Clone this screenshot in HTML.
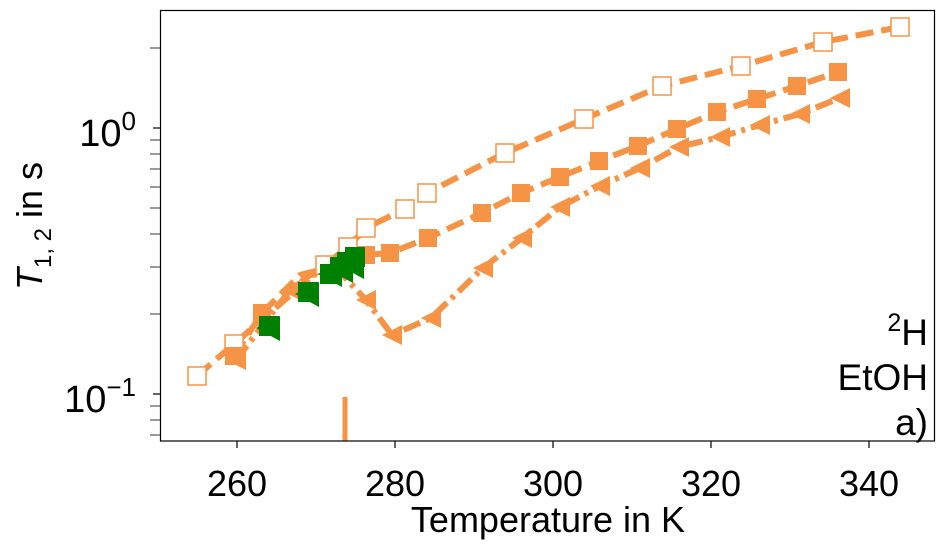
<!DOCTYPE html>
<html><head><meta charset="utf-8"><style>body{margin:0;background:#fff}svg{display:block;font-family:"Liberation Sans","DejaVu Sans",sans-serif}</style></head><body>
<svg width="945" height="549" viewBox="0 0 945 549" xmlns="http://www.w3.org/2000/svg">
<line x1="345" y1="397" x2="345" y2="441" stroke="#f79345" stroke-width="5"/>
<g fill="none" stroke="#f79345" stroke-width="6">
<polyline stroke-dasharray="18,8" points="197,376 234,344 325,265 348,247 366,228 405,209 427,193 505,153 584,119 662,86 741,66 823,42 900,27"/>
<polyline stroke-dasharray="18,8" points="234,356 262,313 300,275 340,265 366,255 390,253 428,238 482,213 521,193 560,177 599,161 638,146 677,129 717,112 757,99 797,86 838,72"/>
<polyline stroke-dasharray="18,6,4,6" points="236,360 290,290 310,275 340,272 366,300 392,335 431,318 483,268 522,238 560,207 600,186 640,168 679,147 720,137 760,125 800,114 840,98"/>
</g>
<g fill="#fff" stroke="#f79345" stroke-width="1.5">
<rect x="188" y="367" width="18" height="18"/><rect x="225" y="335" width="18" height="18"/><rect x="316" y="256" width="18" height="18"/><rect x="339" y="238" width="18" height="18"/><rect x="357" y="219" width="18" height="18"/><rect x="396" y="200" width="18" height="18"/><rect x="418" y="184" width="18" height="18"/><rect x="496" y="144" width="18" height="18"/><rect x="575" y="110" width="18" height="18"/><rect x="653" y="77" width="18" height="18"/><rect x="732" y="57" width="18" height="18"/><rect x="814" y="33" width="18" height="18"/><rect x="891" y="18" width="18" height="18"/>
</g>
<g fill="#f79345">
<rect x="225" y="347" width="18" height="18"/><rect x="253" y="304" width="18" height="18"/><rect x="357" y="246" width="18" height="18"/><rect x="381" y="244" width="18" height="18"/><rect x="419" y="229" width="18" height="18"/><rect x="473" y="204" width="18" height="18"/><rect x="512" y="184" width="18" height="18"/><rect x="551" y="168" width="18" height="18"/><rect x="590" y="152" width="18" height="18"/><rect x="629" y="137" width="18" height="18"/><rect x="668" y="120" width="18" height="18"/><rect x="708" y="103" width="18" height="18"/><rect x="748" y="90" width="18" height="18"/><rect x="788" y="77" width="18" height="18"/><rect x="829" y="63" width="18" height="18"/>
</g>
<g fill="#f79345">
<polygon points="226,360 246,350 246,370"/><polygon points="280,290 300,280 300,300"/><polygon points="356,300 376,290 376,310"/><polygon points="382,335 402,325 402,345"/><polygon points="421,318 441,308 441,328"/><polygon points="473,268 493,258 493,278"/><polygon points="512,238 532,228 532,248"/><polygon points="550,207 570,197 570,217"/><polygon points="590,186 610,176 610,196"/><polygon points="630,168 650,158 650,178"/><polygon points="669,147 689,137 689,157"/><polygon points="710,137 730,127 730,147"/><polygon points="750,125 770,115 770,135"/><polygon points="790,114 810,104 810,124"/><polygon points="830,98 850,88 850,108"/>
</g>
<g fill="#008000">
<rect x="259" y="316" width="20" height="20"/><rect x="298" y="282" width="20" height="20"/><rect x="320" y="264" width="20" height="20"/><rect x="330" y="257" width="20" height="20"/><rect x="337" y="252" width="20" height="20"/><rect x="345" y="247" width="20" height="20"/>
<polygon points="256,328 280,316 280,341"/><polygon points="295,294 319,282 319,307"/><polygon points="318,274 342,262 342,287"/><polygon points="329,270 353,258 353,283"/><polygon points="340,266 364,254 364,279"/>
</g>
<rect x="160.5" y="10.5" width="774" height="430.5" fill="none" stroke="#000" stroke-width="1.2"/>
<g stroke="#000" stroke-width="1.2">
<line x1="237" y1="441" x2="237" y2="448"/><line x1="395" y1="441" x2="395" y2="448"/><line x1="553" y1="441" x2="553" y2="448"/><line x1="711" y1="441" x2="711" y2="448"/><line x1="869" y1="441" x2="869" y2="448"/>
<line x1="153" y1="128" x2="160" y2="128"/><line x1="153" y1="394" x2="160" y2="394"/>
<g stroke-width="0.8"><line x1="150" y1="48" x2="160" y2="48"/><line x1="150" y1="140" x2="160" y2="140"/><line x1="150" y1="154" x2="160" y2="154"/><line x1="150" y1="169" x2="160" y2="169"/><line x1="150" y1="187" x2="160" y2="187"/><line x1="150" y1="208" x2="160" y2="208"/><line x1="150" y1="234" x2="160" y2="234"/><line x1="150" y1="267" x2="160" y2="267"/><line x1="150" y1="314" x2="160" y2="314"/><line x1="150" y1="406" x2="160" y2="406"/><line x1="150" y1="420" x2="160" y2="420"/><line x1="150" y1="435" x2="160" y2="435"/></g>
</g>
<g font-size="36" fill="#000" text-anchor="middle">
<text x="237" y="496">260</text><text x="395" y="496">280</text><text x="553" y="496">300</text><text x="711" y="496">320</text><text x="869" y="496">340</text>
<text x="548" y="532">Temperature in K</text>
</g>
<g font-size="38" text-anchor="end">
<text x="136" y="146">10<tspan font-size="26" dy="-16">0</tspan></text>
<text x="136" y="412">10<tspan font-size="26" dy="-16">−1</tspan></text>
</g>
<text transform="translate(42,226) rotate(-90)" font-size="36" text-anchor="middle"><tspan font-style="italic">T</tspan><tspan font-size="24" dy="9">1, 2</tspan><tspan dy="-9"> in s</tspan></text>
<g font-size="37" text-anchor="end">
<text x="928" y="345"><tspan font-size="25" dy="-14">2</tspan><tspan dy="14">H</tspan></text>
<text x="928" y="390">EtOH</text>
<text x="928" y="435">a)</text>
</g>
</svg>
</body></html>
